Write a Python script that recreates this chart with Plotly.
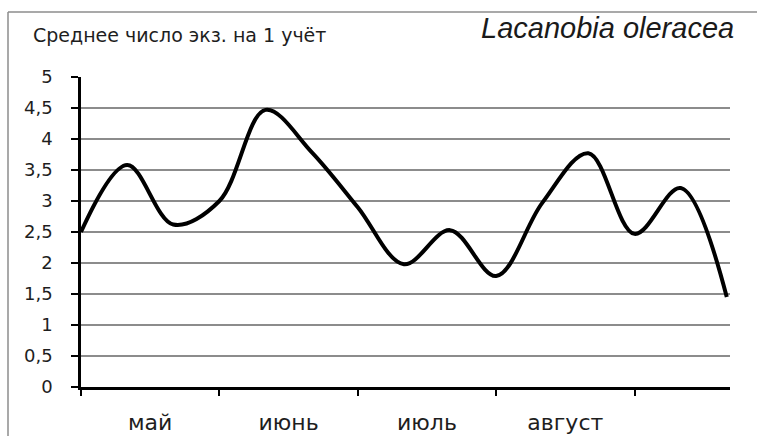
import plotly.graph_objects as go

# Ten-day counting periods, May through early September
period_index = list(range(15))
mean_count = [2.5, 3.58, 2.62, 3.0, 4.47, 3.79, 2.9, 1.98, 2.53, 1.79, 2.97, 3.77, 2.47, 3.21, 1.45]

month_labels = ["май", "июнь", "июль", "август"]
month_centers = [1.5, 4.5, 7.5, 10.5]
month_bounds = [0, 3, 6, 9, 12]

y_ticks = [0, 0.5, 1, 1.5, 2, 2.5, 3, 3.5, 4, 4.5, 5]
y_tick_text = ["0", "0,5", "1", "1,5", "2", "2,5", "3", "3,5", "4", "4,5", "5"]

W, H = 757, 436
L, R, T, B = 81, 27, 77, 49
pw, ph = W - L - R, H - T - B


def px_x(p):
    return (p - L) / pw


def px_y(p):
    return (H - B - p) / ph


fig = go.Figure()
fig.add_trace(go.Scatter(
    x=period_index, y=mean_count, mode="lines",
    line=dict(color="black", width=4, shape="spline", smoothing=1.0),
    hoverinfo="skip", cliponaxis=False,
))

fig.update_layout(
    template="none",
    width=W, height=H, autosize=False,
    margin=dict(l=L, r=R, t=T, b=B, pad=0),
    paper_bgcolor="white", plot_bgcolor="white",
    showlegend=False,
    font=dict(family="DejaVu Sans", color="#1e1e1e"),
    xaxis=dict(
        range=[0, 14.07], showgrid=False, zeroline=False, automargin=False,
        showline=True, linecolor="black", linewidth=2.5,
        tickvals=month_centers, ticktext=month_labels, ticks="",
        tickfont=dict(family="DejaVu Sans", size=22, color="#1e1e1e"),
        ticklabelstandoff=14,
        minor=dict(tickvals=month_bounds, ticks="outside", ticklen=6,
                   tickwidth=2, tickcolor="black", showgrid=False),
    ),
    yaxis=dict(
        range=[0, 5], showgrid=True, gridcolor="#8c8c8c", gridwidth=1.5,
        zeroline=False, automargin=False,
        showline=True, linecolor="black", linewidth=2.5,
        tickvals=y_ticks, ticktext=y_tick_text,
        ticks="outside", ticklen=7, tickwidth=2, tickcolor="black",
        tickfont=dict(family="DejaVu Sans", size=18, color="#1e1e1e"),
        ticklabelstandoff=15,
    ),
    annotations=[
        dict(text="Среднее число экз. на 1 учёт", xref="paper", yref="paper",
             x=px_x(31), y=px_y(35), xanchor="left", yanchor="middle",
             showarrow=False, font=dict(family="DejaVu Sans", size=19, color="#1e1e1e")),
        dict(text="<i>Lacanobia oleracea</i>", xref="paper", yref="paper",
             x=px_x(736), y=px_y(28), xanchor="right", yanchor="middle",
             showarrow=False, font=dict(family="Liberation Sans", size=29, color="#1a1a1a")),
    ],
    shapes=[
        dict(type="line", xref="paper", yref="paper",
             x0=px_x(8), y0=px_y(H + 5), x1=px_x(8), y1=px_y(12),
             line=dict(color="#8c8c8c", width=1.5)),
        dict(type="line", xref="paper", yref="paper",
             x0=px_x(8), y0=px_y(12), x1=px_x(W + 5), y1=px_y(12),
             line=dict(color="#8c8c8c", width=1.5)),
    ],
)

fig.write_html("out.html")
